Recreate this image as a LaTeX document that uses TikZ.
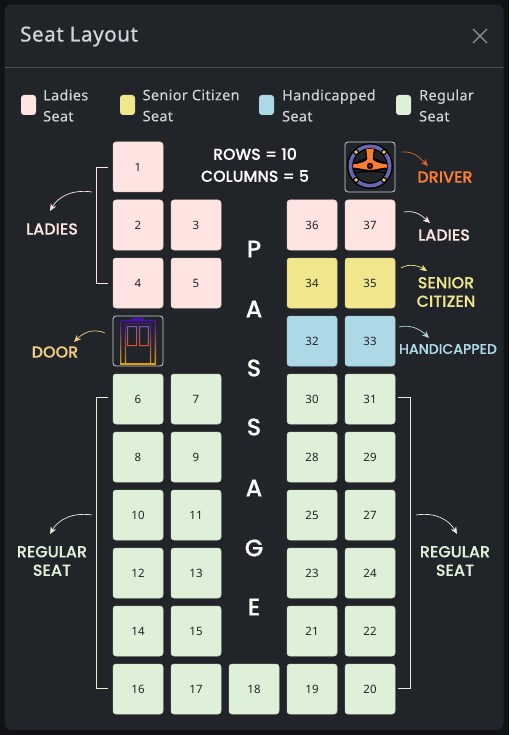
\documentclass[tikz,border=0pt]{standalone}
\usepackage{fontspec}
\setmainfont{Noto Sans}
\newfontfamily\posterfont[FakeBold=0.25]{Poppins Medium}
\newfontfamily\titlefont[FakeBold=1,LetterSpace=3]{Noto Sans}
\newfontfamily\legendfont[FakeBold=0.15,LetterSpace=2.5]{Noto Sans}
\usetikzlibrary{arrows.meta,calc,positioning}
\definecolor{backdrop}{HTML}{101214}
\definecolor{panelbg}{HTML}{212529}
\definecolor{panelrule}{HTML}{494F55}
\definecolor{softtext}{HTML}{CED4DA}
\definecolor{ladiesc}{HTML}{FFE4E1}
\definecolor{seniorc}{HTML}{F0E68C}
\definecolor{handic}{HTML}{ADD8E6}
\definecolor{regularc}{HTML}{DFF0D8}
\definecolor{doorc}{HTML}{F0D080}
\definecolor{driverc}{HTML}{FD7E30}
\definecolor{doortop}{HTML}{4A10A8}
\definecolor{doorbot}{HTML}{E0A000}
\definecolor{wheelring}{HTML}{6A67AE}
\tikzset{
  seatbox/.style={draw=#1!85!gray,fill=#1,line width=.5pt,rounded corners=3pt,minimum size=50pt,inner sep=0pt,
    text=panelbg,font=\fontsize{11.5}{14}\selectfont},
  iconbox/.style={draw=softtext,line width=.8pt,rounded corners=3pt,minimum size=50pt,inner sep=0pt},
  swatch/.style={fill=#1,draw=none,rounded corners=3pt,minimum width=15pt,minimum height=20pt,inner sep=0pt},
  legendtext/.style={anchor=west,align=left,inner sep=0pt,text=softtext,font=\legendfont\fontsize{14.4}{21}\selectfont},
  bigtag/.style={text=#1,align=center,inner sep=0pt,font=\posterfont\fontsize{16}{18.5}\selectfont},
  aisle/.style={text=white,inner sep=0pt,font=\posterfont\fontsize{24}{26}\selectfont},
  bracket/.style={draw=#1,line width=.8pt},
  sketch/.style={draw=#1,line width=.7pt,-{Stealth[length=7pt,width=6pt,inset=2pt]}},
}
\begin{document}
\begin{tikzpicture}[x=1pt,y=-1pt]
\useasboundingbox (0,0) rectangle (509,735);
\fill[backdrop] (0,0) rectangle (509,735);
\fill[panelbg,rounded corners=7pt] (4.5,4.5) rectangle (503.5,730);
\draw[panelrule,line width=.8pt] (4.5,67.5) -- (503.5,67.5);
\node[anchor=west,inner sep=0pt,text=softtext,font=\titlefont\fontsize{20.5}{24}\selectfont] (title) at (20,36.5) {Seat Layout};
\coordinate (closeA) at (473,29);
\coordinate (closeB) at (487,43);
\draw[gray!85,line width=1.1pt] (closeA) -- (closeB) (closeA |- closeB) -- (closeB |- closeA);
% legend
\node[swatch=ladiesc] (keyL) at (28.5,105) {};
\node[swatch=seniorc] (keyS) at (127.5,105) {};
\node[swatch=handic] (keyH) at (266.5,105) {};
\node[swatch=regularc] (keyR) at (403.5,105) {};
\node[legendtext] (txtL) at (43,105.5) {Ladies\\Seat};
\node[legendtext] (txtS) at (142.5,105.5) {Senior Citizen\\Seat};
\node[legendtext] (txtH) at (282,105.5) {Handicapped\\Seat};
\node[legendtext] (txtR) at (419,105.5) {Regular\\Seat};
% seats: number/column/row
\foreach \n/\c/\r in {1/0/0,2/0/1,3/1/1,4/0/2,5/1/2,36/3/1,37/4/1}
  \node[seatbox=ladiesc] (s\n) at ({138+58*\c},{167+58*\r}) {\n};
\foreach \n/\c/\r in {34/3/2,35/4/2}
  \node[seatbox=seniorc] (s\n) at ({138+58*\c},{167+58*\r}) {\n};
\foreach \n/\c/\r in {32/3/3,33/4/3}
  \node[seatbox=handic] (s\n) at ({138+58*\c},{167+58*\r}) {\n};
\foreach \n/\c/\r in {6/0/4,7/1/4,30/3/4,31/4/4,8/0/5,9/1/5,28/3/5,29/4/5,10/0/6,11/1/6,25/3/6,27/4/6,
  12/0/7,13/1/7,23/3/7,24/4/7,14/0/8,15/1/8,21/3/8,22/4/8,16/0/9,17/1/9,18/2/9,19/3/9,20/4/9}
  \node[seatbox=regularc] (s\n) at ({138+58*\c},{167+58*\r}) {\n};
% door icon
\begin{scope}[shift={(138,341)}]
\shade[top color=doortop,bottom color=doorbot,even odd rule]
  (-18,-21) rectangle (18,23.5) (-16.6,-19.6) rectangle (16.6,22);
\shade[top color=doortop,bottom color=doorbot,even odd rule]
  (-13.2,-18) rectangle (13.2,23) (-12,-16.8) rectangle (12,22);
\shade[top color=doortop!70!white,bottom color=red!50!orange!70!gray,even odd rule]
  (-10.8,-15) rectangle (-1,5) (-9.8,-14) rectangle (-2,4);
\shade[top color=doortop!70!white,bottom color=red!50!orange!70!gray,even odd rule]
  (1,-15) rectangle (10.8,5) (2,-14) rectangle (9.8,4);
\fill[doortop] (-7,-21) -- (-5,-23.5) -- (5,-23.5) -- (7,-21) -- cycle;
\fill[doorbot] (-18,22) rectangle (18,23.5);
\end{scope}
\node[iconbox] (door) at (138,341) {};
% steering wheel
\begin{scope}[shift={(370,166)}]
\fill[black] (0,0) circle (23);
\fill[panelbg] (0,0) circle (16.5);
\draw[wheelring,line width=3.6pt] (0,0) circle (19.7);
\draw[black,line width=1.1pt] (-16,7) .. controls (-8,5) and (8,5) .. (16,7);
\fill[black] (-5,-17) -- (5,-17) -- (4,-8) -- (17,-3) -- (17,3.5) -- (6,5) -- (-6,5) -- (-17,3.5) -- (-17,-3) -- (-4,-8) -- cycle;
\fill[driverc] (-3.8,-17) -- (3.8,-17) -- (2.6,-7) .. controls (4,-4) and (8,-3) .. (17,-1.5) -- (17,1.5) .. controls (9,2) and (6,3.8) .. (0,3.8)
  .. controls (-6,3.8) and (-9,2) .. (-17,1.5) -- (-17,-1.5) .. controls (-8,-3) and (-4,-4) .. (-2.6,-7) -- cycle;
\foreach \a in {45,135,225,315}{
  \fill[black] (\a:19.7) circle (3);
  \fill[seniorc!70!orange] (\a:19.7) circle (1.9);
}
\fill[black] (0,0) circle (3.2);
\fill[red!80!black] (0,0) circle (1.4);
\end{scope}
\node[iconbox] (wheel) at (370,167) {};
% passage
\node[bigtag=white,font=\posterfont\fontsize{15.8}{19}\selectfont] (rowstag) at (255,165) {ROWS = 10\\[3pt]COLUMNS = 5};
\foreach \ch/\py in {P/249,A/309,S/368,S/427,A/488,G/548,E/607}
  \node[aisle] (pass\py) at (254,\py) {\ch};
% brackets
\draw[bracket=ladiesc] ([xshift=-5pt]s1.west) -- ++(-11.5pt,0) |- ([xshift=-5pt]s4.west);
\draw[bracket=regularc] ([xshift=-5pt,yshift=2pt]s6.west) -- ++(-11.5pt,0) |- ([xshift=-5pt,yshift=1pt]s16.west);
\draw[bracket=regularc] ([xshift=3pt,yshift=2pt]s31.east) -- ++(12pt,0) |- ([xshift=3pt,yshift=1pt]s20.east);
% tags
\node[bigtag=ladiesc] (tagLadiesA) at (52,229) {LADIES};
\node[bigtag=doorc] (tagDoor) at (55,352) {DOOR};
\node[bigtag=driverc] (tagDriver) at (445,177) {DRIVER};
\node[bigtag=ladiesc] (tagLadiesB) at (444,235) {LADIES};
\node[bigtag=seniorc] (tagSenior) at (446,292) {SENIOR\\CITIZEN};
\node[bigtag=handic,font=\posterfont\fontsize{14}{16}\selectfont] (tagHandi) at (448,349) {HANDICAPPED};
\node[bigtag=regularc] (tagRegA) at (52,561) {REGULAR\\SEAT};
\node[bigtag=regularc] (tagRegB) at (455,561) {REGULAR\\SEAT};
% arrows
\coordinate (fromLadiesA) at (92,192); \coordinate (toLadiesA) at (50,211);
\coordinate (fromDoor) at (105,333); \coordinate (toDoor) at (74,342);
\coordinate (fromDriver) at (402,152); \coordinate (toDriver) at (428,166);
\coordinate (fromLadiesB) at (404,212); \coordinate (toLadiesB) at (430,223);
\coordinate (fromSenior) at (401,268); \coordinate (toSenior) at (427,271);
\coordinate (fromHandi) at (399,327); \coordinate (toHandi) at (429,338);
\coordinate (fromRegA) at (92,515); \coordinate (toRegA) at (50,534);
\coordinate (fromRegB) at (416,515); \coordinate (toRegB) at (457,534);
\draw[sketch=ladiesc] (fromLadiesA) .. controls +(-20,-3) and +(8,-14) .. (toLadiesA);
\draw[sketch=doorc] (fromDoor) .. controls +(-14,-6) and +(7,-7) .. (toDoor);
\draw[sketch=driverc!85!black] (fromDriver) .. controls +(12,-1) and +(-8,-8) .. (toDriver);
\draw[sketch=ladiesc] (fromLadiesB) .. controls +(12,-2) and +(-8,-7) .. (toLadiesB);
\draw[sketch=seniorc] (fromSenior) .. controls +(8,-5) and +(-8,-5) .. (toSenior);
\draw[sketch=handic] (fromHandi) .. controls +(12,-3) and +(-8,-8) .. (toHandi);
\draw[sketch=regularc] (fromRegA) .. controls +(-20,-3) and +(8,-14) .. (toRegA);
\draw[sketch=regularc] (fromRegB) .. controls +(20,-3) and +(-8,-14) .. (toRegB);
\end{tikzpicture}
\end{document}
